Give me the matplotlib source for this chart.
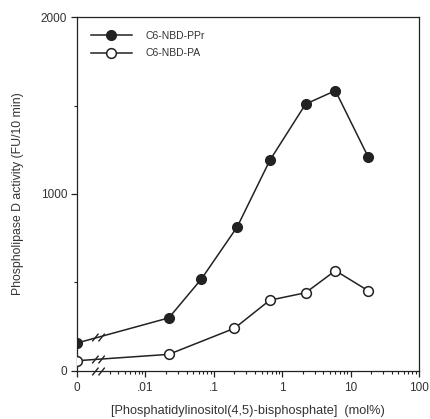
import numpy as np
import matplotlib
matplotlib.use("Agg")
import matplotlib.pyplot as plt
from matplotlib.path import Path
from matplotlib.ticker import FixedLocator, NullFormatter

plt.rcParams['font.family'] = ['Liberation Sans', 'DejaVu Sans']

# values (x = mol% PIP2, the "0" point sits at 0.001)
x_zero = 0.001
x_ppr = [0.022, 0.066, 0.22, 0.66, 2.2, 6, 18]
y_ppr = [158, 300, 520, 814, 1190, 1508, 1584, 1211]
x_pa = [0.022, 0.2, 0.66, 2.2, 6, 18]
y_pa = [58, 94, 241, 400, 442, 567, 454]
x_break = 0.00205

tick_pos = [0.001, 0.01, 0.1, 1, 10, 100]
tick_lab = ["0", ".01", ".1", "1", "10", "100"]

ink = "#222222"
txt = "#333333"

fig = plt.figure(figsize=(4.31, 4.19), dpi=100)
ax = fig.add_axes([0.1787, 0.1146, 0.7933, 0.8448])

# break marker "//"
brk = Path([(-1.6, -1.0), (0.0, 1.0), (0.0, -1.0), (1.6, 1.0)],
           [Path.MOVETO, Path.LINETO, Path.MOVETO, Path.LINETO])


def yb_of(x0, y0, x1, y1):
    t = (np.log10(x_break) - np.log10(x0)) / (np.log10(x1) - np.log10(x0))
    return y0 + t * (y1 - y0)


ax.plot([x_zero] + x_ppr, y_ppr, '-o', color=ink, lw=1.1, ms=7,
        mfc=ink, mec=ink, label="C6-NBD-PPr", zorder=3)
ax.plot([x_zero] + x_pa, y_pa, '-o', color=ink, lw=1.1, ms=7,
        mfc='white', mec=ink, mew=1.1, label="C6-NBD-PA", zorder=3)

yb = [yb_of(x_zero, y_ppr[0], x_ppr[0], y_ppr[1]),
      yb_of(x_zero, y_pa[0], x_pa[0], y_pa[1]), 0]
ax.plot([x_break] * 3, yb, ls='none', marker=brk, ms=9, mew=1.0,
        mec=ink, clip_on=False, zorder=4)

ax.set_xscale('log')
ax.set_xlim(0.001, 100)
ax.set_ylim(0, 2000)

ax.xaxis.set_major_locator(FixedLocator(tick_pos))
ax.set_xticklabels(tick_lab)
minors = [m * 10.0 ** e for e in range(-3, 2) for m in range(2, 10)]
minors = [v for v in minors if v > 0.0025]
ax.xaxis.set_minor_locator(FixedLocator(minors))
ax.xaxis.set_minor_formatter(NullFormatter())

ax.set_yticks([0, 1000, 2000])
ax.set_yticks([500, 1500], minor=True)

ax.tick_params(axis='both', which='major', direction='out', length=4,
               width=0.9, colors=ink, labelcolor=txt, labelsize=8.5, pad=3)
ax.tick_params(axis='both', which='minor', direction='out', length=2.5,
               width=0.8, colors=ink)
ax.tick_params(axis='x', which='major', pad=4)

for s in ax.spines.values():
    s.set_color(ink)
    s.set_linewidth(0.9)

ax.set_ylabel("Phospholipase D activity (FU/10 min)", fontsize=8.8,
              color=txt, labelpad=12)
ax.set_xlabel("[Phosphatidylinositol(4,5)-bisphosphate]  (mol%)",
              fontsize=9.2, color=txt, labelpad=8)

leg = ax.legend(loc='upper left', frameon=False, fontsize=7.5,
                handlelength=4.0, handletextpad=1.3, labelspacing=0.75,
                borderaxespad=0.9, bbox_to_anchor=(0.0, 1.0))
for t in leg.get_texts():
    t.set_color(txt)

fig.savefig("out.png", dpi=100)
